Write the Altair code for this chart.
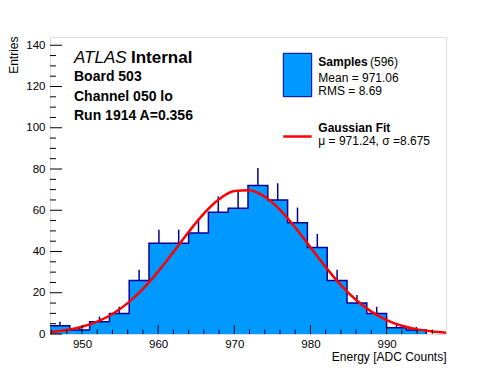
import altair as alt
import pandas as pd

# ---------------- data ----------------
bin_edges = [945.8, 948.4, 951.0, 953.6, 956.2, 958.8, 961.4, 964.0, 966.6, 969.2,
             971.8, 974.4, 977.0, 979.6, 982.2, 984.8, 987.4, 990.0, 992.6, 995.2, 997.8]
counts = [4, 2, 6, 10, 26, 44, 44, 49, 59, 61, 72, 65, 54, 42, 26, 15, 10, 3, 2, 0]
errors = [2.0, 1.4, 2.4, 3.2, 5.1, 6.6, 6.6, 7.0, 7.7, 7.8, 8.5, 8.1, 7.3, 6.5, 5.1,
          3.9, 3.2, 1.7, 1.4, 0.0]

fit_x = [945.8, 948, 950, 952, 954, 956, 958, 960, 962, 964, 966, 968, 970, 972,
         974, 976, 978, 980, 982, 984, 986, 988, 990, 992, 994, 996, 997.8]
fit_y = [0.95, 1.94, 3.50, 5.98, 9.71, 14.96, 21.84, 30.25, 39.70, 49.41, 58.32,
         65.28, 69.29, 69.73, 66.54, 60.21, 51.67, 42.04, 32.43, 23.73, 16.46,
         10.83, 6.76, 4.00, 2.24, 1.19, 0.64]

x_major = [950, 960, 970, 980, 990]
x_minor = [946, 948, 952, 954, 956, 958, 962, 964, 966, 968, 972, 974, 976, 978,
           982, 984, 986, 988, 992, 994, 996]
y_major = [0, 20, 40, 60, 80, 100, 120, 140]
y_minor = [5, 10, 15, 25, 30, 35, 45, 50, 55, 65, 70, 75, 85, 90, 95, 105, 110,
           115, 125, 130, 135]

# ---------------- styling ----------------
W, H = 396, 297
FONT = "Liberation Sans"
FILL = "#0099ff"
EDGE = "#000099"

xs = alt.Scale(domain=[945.8, 997.8], nice=False, zero=False)
ys = alt.Scale(domain=[0, 144], nice=False)

step_df = pd.DataFrame({"x": bin_edges[:20], "y": counts})
err_df = pd.DataFrame({
    "c": [bin_edges[i] + (bin_edges[i + 1] - bin_edges[i]) / 2 for i in range(20)],
    "lo": counts,
    "hi": [c + e for c, e in zip(counts, errors)],
})
err_df = err_df[err_df["lo"] > 0]
fit_df = pd.DataFrame({"x": fit_x, "y": fit_y})

xaxis = alt.Axis(values=x_major, ticks=False, domain=False, grid=False,
                 labelFont=FONT, labelFontSize=11.5, labelPadding=4, labelColor="black",
                 title="Energy [ADC Counts]", titleFont=FONT, titleFontSize=12,
                 titleFontWeight="normal", titleColor="black", titleAnchor="end",
                 titleAlign="right", titleX=W, titleY=26, titleBaseline="alphabetic")
yaxis = alt.Axis(values=y_major, ticks=False, domain=False, grid=False,
                 labelFont=FONT, labelFontSize=11.5, labelPadding=5, labelColor="black",
                 title="Entries", titleFont=FONT, titleFontSize=12,
                 titleFontWeight="normal", titleColor="black", titleAnchor="end",
                 titleAngle=270, titleAlign="right", titleX=-32.5, titleY=-1,
                 titleBaseline="alphabetic")

area = alt.Chart(step_df).mark_area(interpolate="step-after", color=FILL).encode(
    x=alt.X("x:Q", scale=xs, axis=xaxis),
    y=alt.Y("y:Q", scale=ys, axis=yaxis),
)
outline = alt.Chart(step_df).mark_line(interpolate="step-after", color=EDGE,
                                       strokeWidth=1.5).encode(
    x=alt.X("x:Q", scale=xs), y=alt.Y("y:Q", scale=ys))
errs = alt.Chart(err_df).mark_rule(color=EDGE, strokeWidth=1.5).encode(
    x=alt.X("c:Q", scale=xs), y=alt.Y("lo:Q", scale=ys), y2="hi:Q")
fit = alt.Chart(fit_df).mark_line(color="#ff0000", strokeWidth=2.5,
                                  interpolate="monotone", clip=True).encode(
    x=alt.X("x:Q", scale=xs), y=alt.Y("y:Q", scale=ys))


def xticks(vals, length):
    return alt.Chart(pd.DataFrame({"v": vals})).mark_rule(color="black", strokeWidth=1).encode(
        x=alt.X("v:Q", scale=xs), y=alt.value(H), y2=alt.value(H - length))


def yticks(vals, length):
    return alt.Chart(pd.DataFrame({"v": vals})).mark_rule(color="black", strokeWidth=1).encode(
        y=alt.Y("v:Q", scale=ys), x=alt.value(0), x2=alt.value(length))


one = alt.Data(values=[{"a": 1}])


def txt(s, x, y, size, weight="normal", style="normal", align="left"):
    return alt.Chart(one).mark_text(text=s, font=FONT, fontSize=size, fontWeight=weight,
                                    fontStyle=style, align=align, baseline="alphabetic",
                                    color="black").encode(x=alt.value(x), y=alt.value(y))


leg_box = alt.Chart(one).mark_rect(fill=FILL, stroke=EDGE, strokeWidth=1).encode(
    x=alt.value(233.3), x2=alt.value(261.7), y=alt.value(16.3), y2=alt.value(59.7))
leg_line = alt.Chart(one).mark_rule(color="#ff0000", strokeWidth=2.5).encode(
    x=alt.value(233.3), x2=alt.value(261.7), y=alt.value(99.5))

texts = [
    txt("ATLAS", 24, 25.5, 17, style="italic"),
    txt("Internal", 81, 25.5, 17, weight="bold"),
    txt("Board 503", 24, 44, 14, weight="bold"),
    txt("Channel 050 lo", 24, 63.5, 14, weight="bold"),
    txt("Run 1914 A=0.356", 24, 82.5, 14, weight="bold"),
    txt("Samples", 268.3, 28.5, 12, weight="bold"),
    txt("(596)", 320, 28.5, 12),
    txt("Mean = 971.06", 268.3, 45, 12),
    txt("RMS = 8.69", 268.3, 57.5, 12),
    txt("Gaussian Fit", 268.3, 95, 12, weight="bold"),
    txt("\u03bc = 971.24, \u03c3 =8.675", 268.3, 108, 12),
]

chart = alt.layer(
    area, outline, errs, fit,
    xticks(x_major, 9), xticks(x_minor, 4.5),
    yticks(y_major, 12), yticks(y_minor, 6),
    leg_box, leg_line, *texts,
).properties(
    width=W, height=H, autosize="none",
    padding={"left": 42, "top": 29, "right": 42, "bottom": 30},
).configure_view(stroke="black", strokeWidth=1).configure(background="white")

chart.save("out.html", embed_options={"renderer": "svg", "actions": False})
